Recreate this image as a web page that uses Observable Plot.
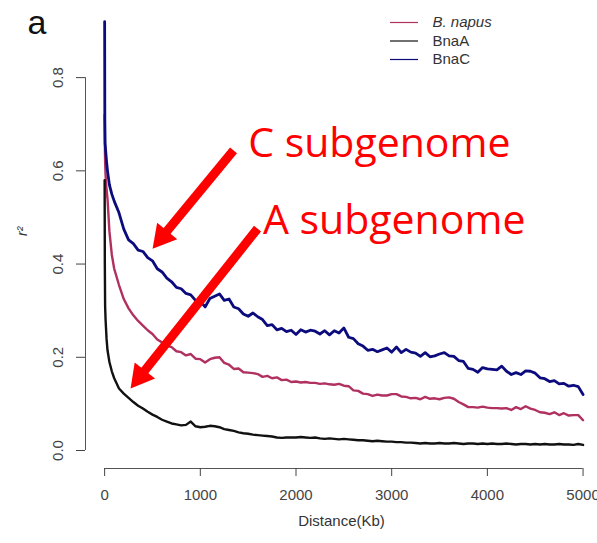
<!DOCTYPE html>
<html><head><meta charset="utf-8">
<script src="https://cdn.jsdelivr.net/npm/d3@7"></script>
<script src="https://cdn.jsdelivr.net/npm/@observablehq/plot@0.6"></script>
<style>html,body{margin:0;padding:0;background:#fff;overflow:hidden}#chart svg{display:block}</style>
</head><body><div id="chart"></div>
<script>
// ---- data ----
const distance = [
  0,2,5,10,20,30,50,75,100,150,
  200,250,300,350,400,450,500,550,600,650,
  700,750,800,850,900,950,1000,1050,1100,1150,
  1200,1250,1300,1350,1400,1450,1500,1550,1600,1650,
  1700,1750,1800,1850,1900,1950,2000,2050,2100,2150,
  2200,2250,2300,2350,2400,2450,2500,2550,2600,2650,
  2700,2750,2800,2850,2900,2950,3000,3050,3100,3150,
  3200,3250,3300,3350,3400,3450,3500,3550,3600,3650,
  3700,3750,3800,3850,3900,3950,4000,4050,4100,4150,
  4200,4250,4300,4350,4400,4450,4500,4550,4600,4650,
  4700,4750,4800,4850,4900,4950,5000
];
const bnapus = [
  0.72,0.66,0.62,0.59,0.56,0.54,0.47,0.42,0.39,0.355,
  0.325,0.305,0.29,0.278,0.268,0.258,0.25,0.238,0.232,0.225,
  0.222,0.213,0.211,0.204,0.207,0.197,0.196,0.189,0.196,0.199,
  0.2,0.188,0.184,0.175,0.176,0.168,0.167,0.166,0.164,0.158,
  0.16,0.155,0.157,0.151,0.152,0.147,0.148,0.146,0.147,0.145,
  0.145,0.143,0.144,0.142,0.141,0.143,0.139,0.138,0.129,0.128,
  0.122,0.121,0.117,0.12,0.118,0.118,0.121,0.121,0.116,0.115,
  0.112,0.113,0.11,0.115,0.111,0.112,0.11,0.113,0.114,0.111,
  0.104,0.099,0.093,0.093,0.092,0.094,0.092,0.091,0.091,0.09,
  0.091,0.087,0.093,0.089,0.095,0.09,0.087,0.082,0.081,0.078,
  0.082,0.076,0.08,0.075,0.076,0.076,0.065
];
const bnaA = [
  0.58,0.40,0.31,0.28,0.24,0.215,0.19,0.17,0.155,0.133,
  0.122,0.113,0.104,0.096,0.09,0.083,0.077,0.072,0.066,0.062,
  0.058,0.056,0.054,0.055,0.062,0.052,0.05,0.051,0.053,0.052,
  0.05,0.046,0.044,0.042,0.039,0.037,0.036,0.034,0.033,0.032,
  0.031,0.03,0.028,0.027,0.028,0.028,0.028,0.029,0.028,0.027,
  0.028,0.026,0.025,0.026,0.025,0.024,0.025,0.024,0.023,0.022,
  0.022,0.021,0.02,0.021,0.02,0.019,0.019,0.018,0.018,0.017,
  0.017,0.016,0.015,0.016,0.015,0.015,0.016,0.015,0.015,0.016,
  0.015,0.014,0.015,0.015,0.014,0.015,0.014,0.015,0.014,0.014,
  0.015,0.014,0.013,0.014,0.014,0.013,0.014,0.013,0.014,0.013,
  0.013,0.014,0.013,0.013,0.012,0.014,0.012
];
const bnaC = [
  0.92,0.71,0.66,0.645,0.62,0.60,0.57,0.55,0.535,0.51,
  0.475,0.452,0.444,0.43,0.427,0.414,0.407,0.39,0.383,0.37,
  0.362,0.35,0.347,0.337,0.334,0.322,0.32,0.308,0.326,0.331,
  0.336,0.322,0.325,0.308,0.304,0.293,0.288,0.295,0.287,0.281,
  0.268,0.27,0.259,0.262,0.255,0.258,0.249,0.259,0.254,0.258,
  0.256,0.25,0.257,0.248,0.257,0.252,0.263,0.243,0.24,0.229,
  0.224,0.215,0.217,0.212,0.216,0.22,0.211,0.222,0.21,0.217,
  0.211,0.209,0.202,0.21,0.201,0.203,0.207,0.21,0.203,0.202,
  0.193,0.191,0.176,0.174,0.168,0.178,0.175,0.174,0.173,0.181,
  0.17,0.163,0.167,0.163,0.171,0.17,0.166,0.156,0.154,0.148,
  0.15,0.143,0.144,0.138,0.14,0.137,0.12
];
const seriesNames = ["B. napus", "BnaA", "BnaC"];
const seriesColors = ["#b03060", "#111111", "#0b0b7e"];
const xTicks = [0, 1000, 2000, 3000, 4000, 5000];
const yTicks = [0, 0.2, 0.4, 0.6, 0.8];
const panelLabel = "a";
const xLabel = "Distance(Kb)";
const yLabel = "r²";
// annotations (data units)
const noteText = ["C subgenome", "A subgenome"];
const noteX = [1500, 1655];
const noteY = [0.629, 0.4655];
const arrowFromX = [1347, 1598];
const arrowFromY = [0.644, 0.476];
const arrowToX = [501, 271];
const arrowToY = [0.433, 0.133];

// ---- layout ----
const W = 597, H = 543, mL = 85, mR = 0, mT = 3, mB = 75;
const xDomain = [-200, 5151], yDomain = [-0.0386, 0.959];
const kx = (W - mL - mR) / (xDomain[1] - xDomain[0]);
const ky = (H - mT - mB) / (yDomain[1] - yDomain[0]);
const pxToX = px => xDomain[0] + (px - mL) / kx;
const pxToY = py => yDomain[1] - (py - mT) / ky;

const seriesValues = [bnapus, bnaA, bnaC];
const seriesWidths = [2.4, 2.4, 2.8];

const headLen = 23, headR = 13;
const arrows = arrowFromX.map((_, i) => {
  const dxp = (arrowToX[i] - arrowFromX[i]) * kx;
  const dyp = -(arrowToY[i] - arrowFromY[i]) * ky;
  const len = Math.hypot(dxp, dyp);
  const ux = dxp / len, uy = dyp / len;
  const back = headLen - 2;
  return {
    x1: arrowFromX[i], y1: arrowFromY[i],
    x2: arrowToX[i] - ux * back / kx, y2: arrowToY[i] + uy * back / ky,
    tx: arrowToX[i], ty: arrowToY[i],
    rot: Math.atan2(ux, -uy) * 180 / Math.PI
  };
});

const legendRows = seriesNames.map((s, i) => ({
  s, color: seriesColors[i], italic: i === 0,
  x1: pxToX(390), x2: pxToX(418), tx: pxToX(432), y: pxToY(22 + 18.5 * i)
}));

const fontMain = "'Liberation Sans', Arial, Helvetica, sans-serif";

const curveMarks = seriesNames.map((s, j) =>
  Plot.line(distance.map((d, i) => ({d, r2: seriesValues[j][i]})),
    {x: "d", y: "r2", stroke: seriesColors[j], strokeWidth: seriesWidths[j], strokeLinejoin: "round"}));

const chart = Plot.plot({
  width: W, height: H,
  marginLeft: mL, marginRight: mR, marginTop: mT, marginBottom: mB,
  style: {fontFamily: fontMain, background: "#fff", overflow: "visible"},
  x: {domain: xDomain},
  y: {domain: yDomain},
  marks: [
    // R-style axis lines spanning first to last tick
    Plot.ruleX([xDomain[0]], {y1: yTicks[0], y2: yTicks[yTicks.length - 1], stroke: "#555", strokeWidth: 1}),
    Plot.ruleY([yDomain[0]], {x1: xTicks[0], x2: xTicks[xTicks.length - 1], stroke: "#555", strokeWidth: 1}),
    Plot.axisY(yTicks, {tickSize: 9, tickPadding: 14, tickRotate: -90, tickFormat: d3.format(".1f"),
      fontSize: 15, color: "#444", label: null}),
    Plot.axisX(xTicks, {tickSize: 8, tickPadding: 13, tickFormat: d => String(d),
      fontSize: 15, color: "#444", label: null}),
    Plot.text([xLabel], {frameAnchor: "bottom", dy: 57, fontSize: 15, fill: "#333"}),
    Plot.text([yLabel], {frameAnchor: "left", dx: -63, rotate: -90, fontSize: 14, fontStyle: "italic", fill: "#333"}),
    Plot.text([panelLabel], {frameAnchor: "top-left", dx: -58, dy: 30, fontSize: 34, textAnchor: "start", lineAnchor: "bottom", fill: "#111"}),
    // curves
    ...curveMarks,
    // legend
    Plot.ruleY(legendRows, {y: "y", x1: "x1", x2: "x2", stroke: d => d.color, strokeWidth: 1.2}),
    Plot.text(legendRows.filter(d => d.italic), {x: "tx", y: "y", text: "s", textAnchor: "start", fontSize: 15, fill: "#333", fontStyle: "italic"}),
    Plot.text(legendRows.filter(d => !d.italic), {x: "tx", y: "y", text: "s", textAnchor: "start", fontSize: 15, fill: "#333"}),
    // annotations
    Plot.link(arrows, {x1: "x1", y1: "y1", x2: "x2", y2: "y2", stroke: "#ff0000", strokeWidth: 9}),
    Plot.vector(arrows, {x: "tx", y: "ty", rotate: "rot", length: headLen, r: headR, shape: "spike",
      anchor: "end", fill: "#ff0000", stroke: "none"}),
    Plot.text(noteText, {x: (d, i) => noteX[i], y: (d, i) => noteY[i], text: d => d, textAnchor: "start",
      lineAnchor: "bottom", fontSize: 41, fill: "#ff0000", fontFamily: "'Open Sans', sans-serif"})
  ]
});
document.getElementById("chart").appendChild(chart);
</script>
</body></html>
